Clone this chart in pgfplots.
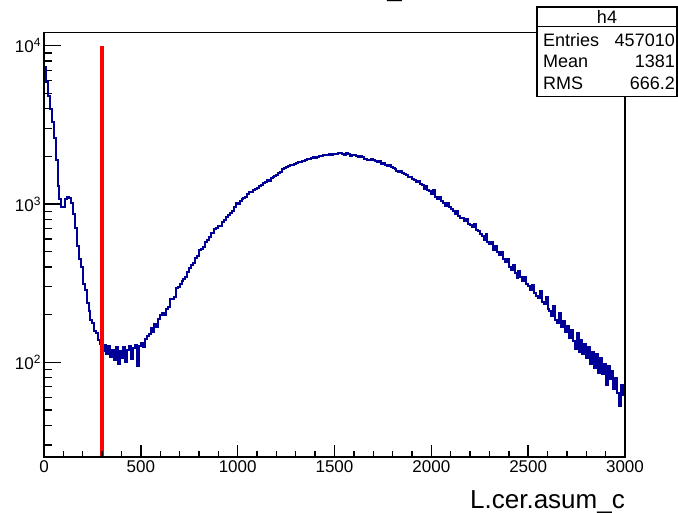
\documentclass[border=0pt]{standalone}
\usepackage{fontspec}
\setmainfont{Liberation Sans}
\usepackage{pgfplots}
\pgfplotsset{compat=1.18}
\definecolor{histblue}{RGB}{0,0,153}
\newcommand\tp[1]{10\raisebox{6pt}{\fontsize{12}{12}\selectfont #1}}

\begin{document}
\begin{tikzpicture}[x=1pt,y=1pt]
\useasboundingbox (0,0) rectangle (678,513);

% histogram + y ticks
\begin{axis}[
    at={(44pt,56pt)}, anchor=south west, scale only axis,
    width=581pt, height=424.5pt,
    ymode=log,
    xmin=0, xmax=3000, ymin=25.2, ymax=12115,
    axis line style={line width=1.6pt},
    tick style={line width=1.4pt, black},
    tick align=inside,
    tick label style={font=\fontsize{17}{17}\selectfont},
    xtick=\empty,
    ytick={100,1000,10000},
    yticklabels={\tp{2},\tp{3},\tp{4}},
    minor ytick={30,40,50,60,70,80,90,200,300,400,500,600,700,800,900,2000,3000,4000,5000,6000,7000,8000,9000},
    ytick pos=left,
    major tick length=16.7pt, minor tick length=8.3pt]
\addplot[const plot, histblue, line width=2pt] coordinates {
(0,7300)(10,5900)(20,4800)(30,4000)(40,3300)(50,2600)(60,1900)(70,1300)(80,1080)(90,950)
(100,960)(110,1070)(120,1110)(130,1090)(140,1010)(150,860)(160,700)(170,540)(180,450)(190,400)
(200,310)(210,285)(220,236)(230,212)(240,186)(250,176)(260,158)(270,154)(280,138)(290,131)
(300,118)(310,128)(320,112)(330,126)(340,108)(350,120)(360,104)(370,124)(380,97)(390,117)
(400,106)(410,124)(420,101)(430,119)(440,126)(450,105)(460,123)(470,128)(480,94)(490,126)
(500,133)(510,124)(520,140)(530,146)(540,150)(550,165)(560,156)(570,174)(580,166)(590,187)
(600,199)(610,204)(620,198)(630,216)(640,224)(650,250)(660,250)(670,260)(680,296)(690,298)
(700,314)(710,328)(720,336)(730,346)(740,374)(750,393)(760,410)(770,424)(780,454)(790,468)
(800,510)(810,518)(820,538)(830,572)(840,594)(850,618)(860,654)(870,660)(880,692)(890,710)
(900,722)(910,726)(920,770)(930,794)(940,832)(950,856)(960,878)(970,900)(980,958)(990,1010)
(1000,1006)(1010,1040)(1020,1068)(1030,1090)(1040,1112)(1050,1152)(1060,1190)(1070,1198)(1080,1220)(1090,1250)
(1100,1268)(1110,1302)(1120,1320)(1130,1352)(1140,1372)(1150,1410)(1160,1398)(1170,1452)(1180,1478)(1190,1500)
(1200,1528)(1210,1560)(1220,1602)(1230,1652)(1240,1690)(1250,1702)(1260,1728)(1270,1752)(1280,1770)(1290,1800)
(1300,1816)(1310,1840)(1320,1852)(1330,1870)(1340,1862)(1350,1898)(1360,1920)(1370,1910)(1380,1950)(1390,1968)
(1400,1960)(1410,1990)(1420,2012)(1430,2000)(1440,2046)(1450,2028)(1460,2050)(1470,2068)(1480,2040)(1490,2062)
(1500,2075)(1510,2055)(1520,2090)(1530,2110)(1540,2078)(1550,2040)(1560,2085)(1570,2060)(1580,2020)(1590,2040)
(1600,2030)(1610,1998)(1620,1985)(1630,2010)(1640,1970)(1650,1930)(1660,1925)(1670,1900)(1680,1895)(1690,1935)
(1700,1900)(1710,1880)(1720,1845)(1730,1860)(1740,1800)(1750,1820)(1760,1770)(1770,1740)(1780,1750)(1790,1700)
(1800,1680)(1810,1660)(1820,1620)(1830,1590)(1840,1610)(1850,1560)(1860,1540)(1870,1520)(1880,1480)(1890,1490)
(1900,1440)(1910,1410)(1920,1370)(1930,1400)(1940,1340)(1950,1310)(1960,1250)(1970,1290)(1980,1230)(1990,1200)
(2000,1150)(2010,1220)(2020,1110)(2030,1080)(2040,1100)(2050,1040)(2060,1010)(2070,975)(2080,1020)(2090,950)
(2100,930)(2110,900)(2120,860)(2130,905)(2140,840)(2150,820)(2160,812)(2170,784)(2180,806)(2190,752)
(2200,740)(2210,712)(2220,748)(2230,684)(2240,670)(2250,646)(2260,632)(2270,594)(2280,648)(2290,576)
(2300,562)(2310,574)(2320,512)(2330,546)(2340,494)(2350,476)(2360,498)(2370,446)(2380,430)(2390,446)
(2400,398)(2410,382)(2420,410)(2430,366)(2440,340)(2450,378)(2460,344)(2470,326)(2480,344)(2490,310)
(2500,302)(2510,286)(2520,308)(2530,272)(2540,262)(2550,254)(2560,282)(2570,240)(2580,232)(2590,258)
(2600,218)(2610,212)(2620,196)(2630,226)(2640,186)(2650,176)(2660,204)(2670,166)(2680,182)(2690,156)
(2700,170)(2710,142)(2720,160)(2730,136)(2740,122)(2750,154)(2760,116)(2770,138)(2780,112)(2790,130)
(2800,106)(2810,124)(2820,98)(2830,116)(2840,92)(2850,112)(2860,86)(2870,106)(2880,84)(2890,98)
(2900,72)(2910,94)(2920,78)(2930,88)(2940,68)(2950,80)(2960,64)(2970,53)(2980,72)(2990,62)(3000,62)
};
% cut line
\addplot[red, line width=3.5pt] coordinates {(300,25.2) (300,10000)};
\end{axis}

% x ticks (shorter than the y ones)
\begin{axis}[
    at={(44pt,56pt)}, anchor=south west, scale only axis,
    width=581pt, height=424.5pt,
    xmin=0, xmax=3000, ymin=0, ymax=1,
    axis line style={line width=1.6pt},
    tick style={line width=1.4pt, black},
    tick align=inside,
    tick label style={font=\fontsize{17}{17}\selectfont},
    /pgf/number format/assume math mode=true,
    /pgf/number format/1000 sep={},
    ytick=\empty,
    xtick={0,500,...,3000},
    minor x tick num=4,
    xtick pos=left,
    major tick length=11.7pt, minor tick length=6pt]
\end{axis}

% stats box
\draw[line width=1.5pt, fill=white] (537,416.3) rectangle (677,506);
\draw[line width=1.5pt] (537,486.3) -- (677,486.3);
\begin{scope}[every node/.style={inner sep=0pt, font=\fontsize{18}{18}\selectfont}]
\node[anchor=base] at (607,489) {h4};
\node[anchor=base west] at (543,466.3) {Entries};
\node[anchor=base east] at (675,466.3) {457010};
\node[anchor=base west] at (543,445) {Mean};
\node[anchor=base east] at (675,445) {1381};
\node[anchor=base west] at (543,423) {RMS};
\node[anchor=base east] at (675,423) {666.2};
\end{scope}

% axis title and cut-off histogram title
\node[anchor=base east, inner sep=0pt, font=\fontsize{26}{26}\selectfont] at (625,4.7) {L.cer.asum\_c};
\node[anchor=base, inner sep=0pt, font=\fontsize{26}{26}\selectfont] at (394.7,516.5) {\_};
\end{tikzpicture}
\end{document}
